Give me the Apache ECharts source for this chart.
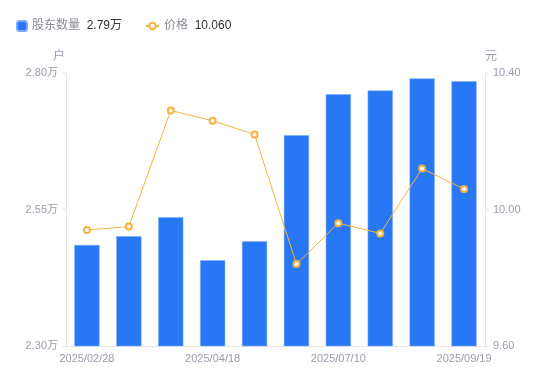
<!DOCTYPE html>
<html>
<head>
<meta charset="utf-8">
<script src="https://cdn.jsdelivr.net/npm/echarts@6/dist/echarts.min.js"></script>
<style>
  html, body { margin: 0; padding: 0; background: #fff; }
  #chart { width: 550px; height: 381px; }
</style>
</head>
<body>
<div id="chart"></div>
<script>
// data
var dates = ['2025/02/28', '2025/03/10', '2025/03/31', '2025/04/18', '2025/04/30',
             '2025/06/10', '2025/07/10', '2025/08/08', '2025/08/29', '2025/09/19'];
var holders = [2.485, 2.501, 2.536, 2.457, 2.492, 2.686, 2.761, 2.768, 2.790, 2.785]; // 万户
var prices = [9.94, 9.95, 10.29, 10.26, 10.22, 9.84, 9.96, 9.93, 10.12, 10.06];
var leftTicks = [2.30, 2.55, 2.80];
var rightTicks = [9.60, 10.00, 10.40];

var labelColor = '#9a9cab';
var lineColor = '#e6e6e6';
var fontStack = '"Liberation Sans", "Noto Sans CJK SC", sans-serif';

var chart = echarts.init(document.getElementById('chart'));

var legendRich = {
  a: { color: '#8a8c99', fontSize: 12, fontFamily: fontStack },
  b: { color: '#333333', fontSize: 12, fontFamily: fontStack }
};

var option = {
  animation: false,
  textStyle: { fontFamily: fontStack },
  color: ['#2878f5', '#f7b23b'],
  legend: [
    {
      left: 11,
      top: 15,
      itemWidth: 10,
      itemHeight: 10,
      data: [{ name: '股东数量', icon: 'roundRect' }],
      formatter: function (name) {
        return '{a|' + name + '}  {b|' + holders[holders.length - 1].toFixed(2) + '万}';
      },
      textStyle: { rich: legendRich }
    },
    {
      left: 140,
      top: 15,
      itemWidth: 13,
      itemHeight: 8,
      data: ['价格'],
      formatter: function (name) {
        return '{a|' + name + '}  {b|' + prices[prices.length - 1].toFixed(3) + '}';
      },
      textStyle: { rich: legendRich }
    }
  ],
  grid: { left: 66, right: 65, top: 73, bottom: 35 },
  xAxis: {
    type: 'category',
    data: dates,
    axisLine: { lineStyle: { color: lineColor } },
    axisTick: { show: false },
    axisLabel: { color: labelColor, fontSize: 11, interval: 2, margin: 7 }
  },
  yAxis: [
    {
      type: 'value',
      name: '户',
      nameGap: 10,
      nameTextStyle: { color: labelColor, fontSize: 12, align: 'right', padding: [0, 1, 0, 0] },
      min: leftTicks[0],
      max: leftTicks[2],
      interval: 0.25,
      splitLine: { show: false },
      axisLine: { show: true, lineStyle: { color: lineColor } },
      axisTick: { show: true, length: 4, lineStyle: { color: lineColor } },
      axisLabel: {
        color: labelColor, fontSize: 11, margin: 8,
        formatter: function (v) { return v.toFixed(2) + '万'; }
      }
    },
    {
      type: 'value',
      name: '元',
      nameGap: 10,
      nameTextStyle: { color: labelColor, fontSize: 12, align: 'left' },
      min: rightTicks[0],
      max: rightTicks[2],
      interval: 0.4,
      splitLine: { show: false },
      axisLine: { show: true, lineStyle: { color: lineColor } },
      axisTick: { show: true, length: 4, lineStyle: { color: lineColor } },
      axisLabel: {
        color: labelColor, fontSize: 11, margin: 8,
        formatter: function (v) { return v.toFixed(2); }
      }
    }
  ],
  series: [
    {
      name: '股东数量',
      type: 'bar',
      yAxisIndex: 0,
      barWidth: '60%',
      data: holders,
      itemStyle: { color: '#2878f5', borderColor: '#7eaaf6', borderWidth: 0.5 }
    },
    {
      name: '价格',
      type: 'line',
      yAxisIndex: 1,
      data: prices,
      symbol: 'circle',
      symbolSize: 6,
      lineStyle: { color: '#f7b23b', width: 1 },
      itemStyle: { color: '#ffffff', borderColor: '#f7b23b', borderWidth: 2 }
    }
  ]
};

chart.setOption(option);
</script>
</body>
</html>
